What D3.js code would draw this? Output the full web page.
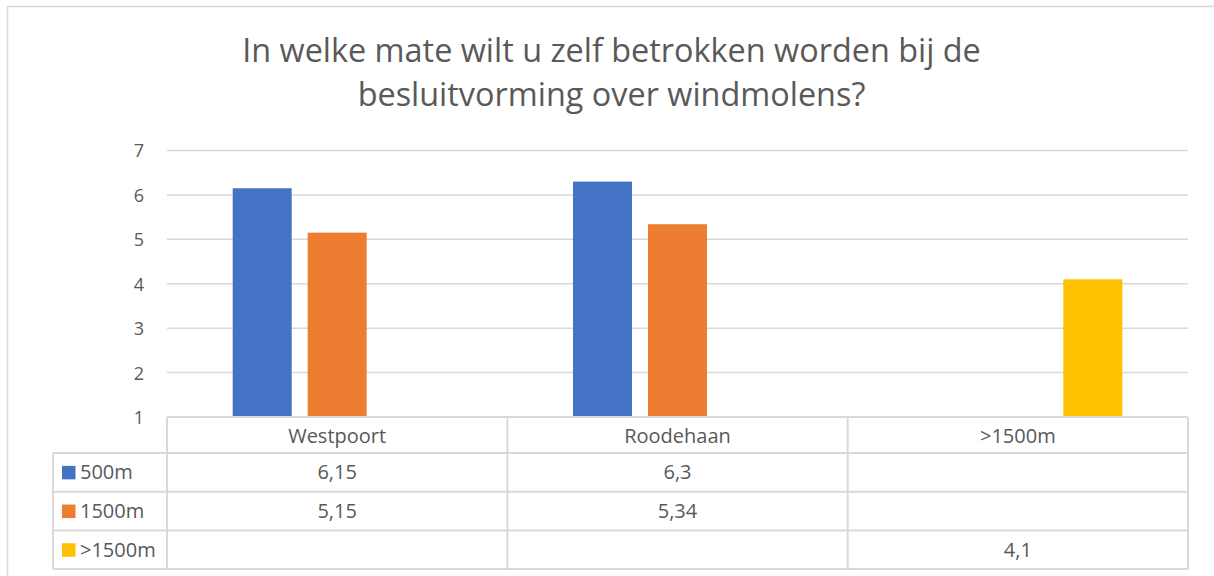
<!DOCTYPE html>
<html>
<head>
<meta charset="utf-8">
<script src="https://cdn.jsdelivr.net/npm/d3@7/dist/d3.min.js"></script>
<style>
  html, body { margin: 0; padding: 0; background: #fff; }
  svg { display: block; font-family: "Open Sans", sans-serif; }
</style>
</head>
<body>
<svg id="chart" width="1214" height="576"></svg>
<script>
// Survey data: average score per location, per distance group
const categories = ["Westpoort", "Roodehaan", ">1500m"];
const seriesNames = ["500m", "1500m", ">1500m"];
const values500 = [6.15, 6.3, null];
const values1500 = [5.15, 5.34, null];
const valuesOver1500 = [null, null, 4.1];
const seriesColors = ["#4472C4", "#ED7D31", "#FFC000"];
const yTicks = [1, 2, 3, 4, 5, 6, 7];
const titleLines = ["In welke mate wilt u zelf betrokken worden bij de", "besluitvorming over windmolens?"];

const seriesValues = [values500, values1500, valuesOver1500];

const svg = d3.select("#chart");
const textColor = "#595959";
const lineColor = "#d9d9d9";
const font = "'Open Sans', sans-serif";
const tableFontSize = 20;

// chart frame (runs past the right and bottom edges)
svg.append("rect")
  .attr("x", 7.5).attr("y", 6.5).attr("width", 1220).attr("height", 580)
  .attr("fill", "#fff").attr("stroke", lineColor).attr("stroke-width", 1.5);

// title
svg.append("g").selectAll("text").data(titleLines).join("text")
  .attr("x", 611.5).attr("y", (d, i) => 62 + i * 44)
  .attr("text-anchor", "middle")
  .attr("font-size", 32.4)
  .attr("fill", textColor)
  .text(d => d);

const plotLeft = 167, plotRight = 1188, plotTop = 150.5, plotBottom = 417;
const x = d3.scaleBand().domain(categories).range([plotLeft, plotRight]).padding(0);
const y = d3.scaleLinear().domain([1, 7]).range([plotBottom, plotTop]);
const xs = d3.scaleBand().domain(seriesNames).range([0, x.bandwidth()])
  .paddingInner(0.2133).paddingOuter(0.876);

// gridlines
svg.append("g").selectAll("line").data(yTicks.slice(1)).join("line")
  .attr("x1", plotLeft).attr("x2", plotRight)
  .attr("y1", d => y(d)).attr("y2", d => y(d))
  .attr("stroke", lineColor).attr("stroke-width", 1.5);

// y axis labels
const yAxis = d3.axisLeft(y).tickValues(yTicks).tickSize(0).tickPadding(0).tickFormat(d3.format("d"));
const yg = svg.append("g").attr("transform", `translate(${plotLeft - 23},0)`).call(yAxis);
yg.select(".domain").remove();
yg.selectAll("text").attr("font-size", 18).attr("fill", textColor)
  .attr("font-family", font).attr("dy", "0.36em");

// bars
const barData = [];
seriesValues.forEach((vals, si) => {
  vals.forEach((v, ci) => {
    if (v != null) barData.push({ cat: categories[ci], series: seriesNames[si], color: seriesColors[si], value: v });
  });
});
svg.append("g").selectAll("rect").data(barData).join("rect")
  .attr("x", d => x(d.cat) + xs(d.series))
  .attr("width", xs.bandwidth())
  .attr("y", d => y(d.value))
  .attr("height", d => y(1) - y(d.value))
  .attr("fill", d => d.color);

// data table
const headerBottom = 453;
const rowH = 38.7;
const tableLeft = 53;
const rowTops = seriesNames.map((s, i) => headerBottom + i * rowH);
const tableBottom = headerBottom + seriesNames.length * rowH;
const tbl = svg.append("g").attr("stroke", lineColor).attr("stroke-width", 2).attr("fill", "none");

// horizontal lines
tbl.append("line").attr("x1", plotLeft).attr("x2", plotRight).attr("y1", plotBottom).attr("y2", plotBottom);
[...rowTops, tableBottom].forEach(yy => {
  tbl.append("line").attr("x1", tableLeft).attr("x2", plotRight).attr("y1", yy).attr("y2", yy);
});
// vertical lines
tbl.append("line").attr("x1", tableLeft).attr("x2", tableLeft).attr("y1", headerBottom).attr("y2", tableBottom);
[...categories.map(c => x(c)), plotRight].forEach(xx => {
  tbl.append("line").attr("x1", xx).attr("x2", xx).attr("y1", plotBottom).attr("y2", tableBottom);
});

// category headers
svg.append("g").selectAll("text").data(categories).join("text")
  .attr("x", d => x(d) + x.bandwidth() / 2)
  .attr("y", 443)
  .attr("text-anchor", "middle").attr("font-size", tableFontSize).attr("fill", textColor)
  .text(d => d);

// row legend keys and names
const rows = svg.append("g").selectAll("g").data(seriesNames).join("g")
  .attr("transform", (d, i) => `translate(0,${rowTops[i]})`);
rows.append("rect")
  .attr("x", 62).attr("y", rowH / 2 - 6.5).attr("width", 13.5).attr("height", 13.5)
  .attr("fill", (d, i) => seriesColors[i]);
rows.append("text")
  .attr("x", 80).attr("y", rowH / 2 + 7)
  .attr("font-size", tableFontSize).attr("fill", textColor)
  .text(d => d);

// cell values
const fmt = v => String(v).replace(".", ",");
rows.each(function (s, si) {
  d3.select(this).selectAll("text.val").data(seriesValues[si].map((v, ci) => ({ v, cat: categories[ci] })).filter(d => d.v != null))
    .join("text").attr("class", "val")
    .attr("x", d => x(d.cat) + x.bandwidth() / 2)
    .attr("y", rowH / 2 + 7)
    .attr("text-anchor", "middle").attr("font-size", tableFontSize).attr("fill", textColor)
    .text(d => fmt(d.v));
});
</script>
</body>
</html>
